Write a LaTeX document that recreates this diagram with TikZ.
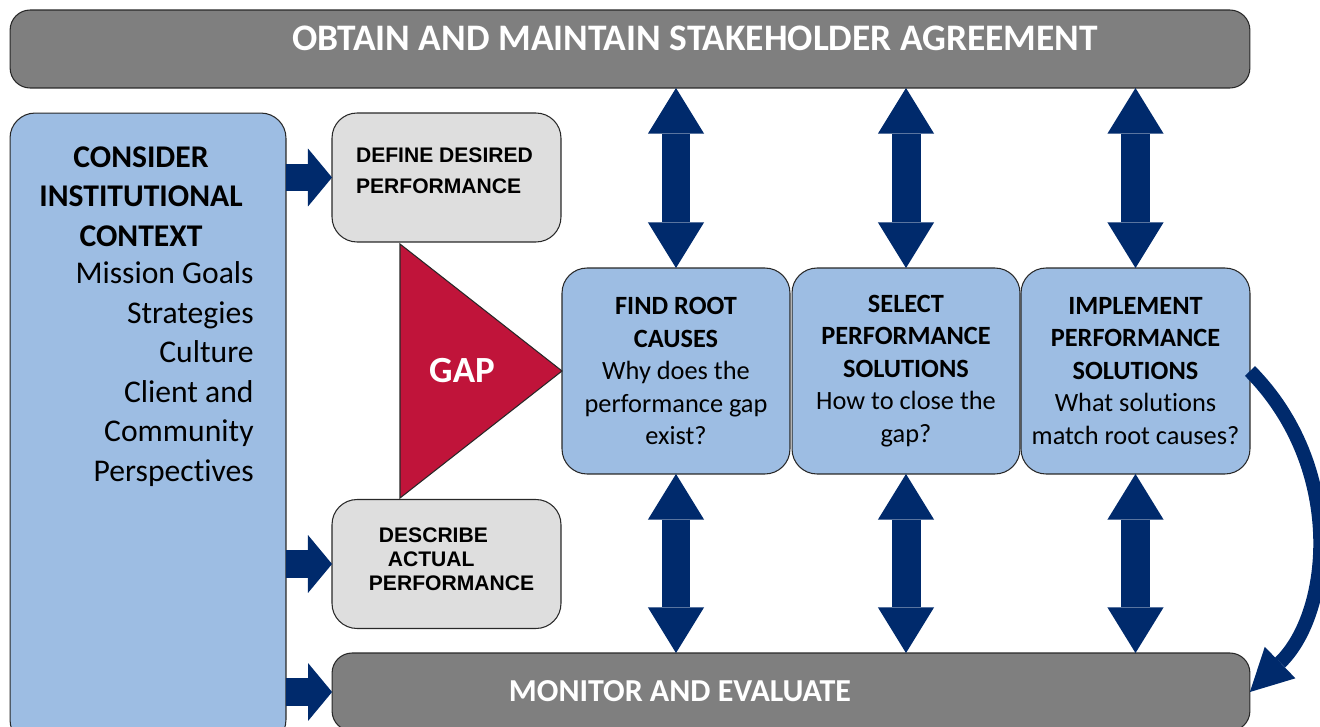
\documentclass[tikz,border=0pt]{standalone}
\usepackage{fontspec}
\setmainfont{Carlito}[Ligatures=NoCommon]
\newfontfamily\arialfont{Liberation Sans}
\usepackage{xcolor}
\definecolor{dkgray}{RGB}{127,127,127}
\definecolor{ltgray}{RGB}{222,222,222}
\definecolor{ltblue}{RGB}{157,189,227}
\definecolor{dkblue}{RGB}{0,42,108}
\definecolor{gapred}{RGB}{192,20,58}
\definecolor{edge}{RGB}{40,40,40}
\usepackage{tikz}
\usetikzlibrary{arrows.meta, calc}
\tikzstyle{box} = [
    rectangle, rounded corners=0.5cm,
    draw=edge, line width=0.6pt,
    inner sep=0pt, outer sep=0pt,
]
\tikzstyle{bar} = [
    box,
    rounded corners=0.4cm,
    fill=dkgray,
    minimum height=1.56cm,
]
\tikzstyle{bartext} = [
    white,
    font=\bfseries\fontsize{21.3}{25}\selectfont,
]
\tikzstyle{context} = [
    box,
    fill=ltblue,
    minimum width=5.52cm,
    minimum height=12.64cm,
]
\tikzstyle{stage} = [
    box,
    fill=ltblue,
    minimum width=4.56cm,
    minimum height=4.12cm,
    align=center,
    font=\fontsize{15}{18.5}\selectfont,
]
\tikzstyle{spec} = [
    box,
    fill=ltgray,
    minimum width=4.58cm,
    minimum height=2.58cm,
]
\tikzstyle{spectext} = [
    align=left, inner sep=0pt,
    font=\arialfont\bfseries\fontsize{12}{17.6}\selectfont,
]
\tikzstyle{twoway} = [
    dkblue, line width=16.5pt,
    {Triangle[length=26pt,width=32pt,line width=0pt]}-{Triangle[length=26pt,width=32pt,line width=0pt]},
]
\tikzstyle{push} = [
    dkblue, line width=15.4pt,
    -{Triangle[length=13.7pt,width=33pt,line width=0pt]},
]
\tikzstyle{feedback} = [
    dkblue, line width=8pt,
    -{Triangle[length=24pt,width=25pt,line width=0pt]},
]

\begin{document}
\begin{tikzpicture}[x=0.02cm, y=-0.02cm]
    \useasboundingbox (0,0) rectangle (1320,727);

    % bars
    \node (agree) at (630,49) [bar, minimum width=24.8cm] {};
    \node (agreeText) at (695,38) [bartext] {OBTAIN AND MAINTAIN STAKEHOLDER AGREEMENT};
    \node (monitor) at (791,692) [bar, minimum width=18.36cm] {};
    \node (monitorText) at (680,691) [bartext, font=\bfseries\fontsize{18.2}{22}\selectfont] {MONITOR AND EVALUATE};

    % context column
    \node (ctx) at (148,429) [context] {};
    \node (ctxTitle) at (141,196.5) [align=center, inner sep=0pt, font=\bfseries\fontsize{18}{22.5}\selectfont]
        {CONSIDER\\INSTITUTIONAL\\CONTEXT};
    \node (ctxList) at (254,374) [anchor=east, align=right, inner sep=0pt, font=\fontsize{18}{22.5}\selectfont]
        {Mission Goals\\Strategies\\Culture\\Client and\\Community\\Perspectives};

    % desired / actual
    \node (define) at (446.5,177.5) [spec] {};
    \node (defineText) at ($(define)+(-2,-7)$) [spectext] {DEFINE DESIRED\\PERFORMANCE};
    \node (describe) at (446.5,564) [spec] {};
    \node (describeText) at ($(describe)+(5,-5)$) [spectext, font=\arialfont\bfseries\fontsize{12}{13.7}\selectfont]
        {\hspace*{5.7pt}DESCRIBE\\\hspace*{10.8pt}ACTUAL\\PERFORMANCE};

    % stages
    \node (find) at (676,371) [stage]
        {\textbf{FIND ROOT}\\\textbf{CAUSES}\\Why does the\\performance gap\\exist?};
    \node (select) at (906,371) [stage]
        {\textbf{SELECT}\\\textbf{PERFORMANCE}\\\textbf{SOLUTIONS}\\How to close the\\gap?};
    \node (implement) at (1135.5,371) [stage, minimum width=4.58cm]
        {\textbf{IMPLEMENT}\\\textbf{PERFORMANCE}\\\textbf{SOLUTIONS}\\What solutions\\match root causes?};

    % gap
    \draw [fill=gapred, draw=edge, line width=0.6pt] (400,244) -- (400,498) -- (find.west) -- cycle;
    \node (gap) at (462,371) [white, font=\bfseries\fontsize{21}{25}\selectfont] {GAP};

    % arrows
    \foreach \s in {find, select, implement} {
        \draw [twoway] (\s.north |- agree.south) to (\s.north);
        \draw [twoway] (\s.south) to (\s.south |- monitor.north);
    }
    \foreach \s in {define, describe, monitor}
        \draw [push] (ctx.east |- \s.west) to (\s.west);
    \draw [feedback] (implement.east) .. controls (1345,467) and (1332,612) .. (monitor.east);

\end{tikzpicture}
\end{document}
